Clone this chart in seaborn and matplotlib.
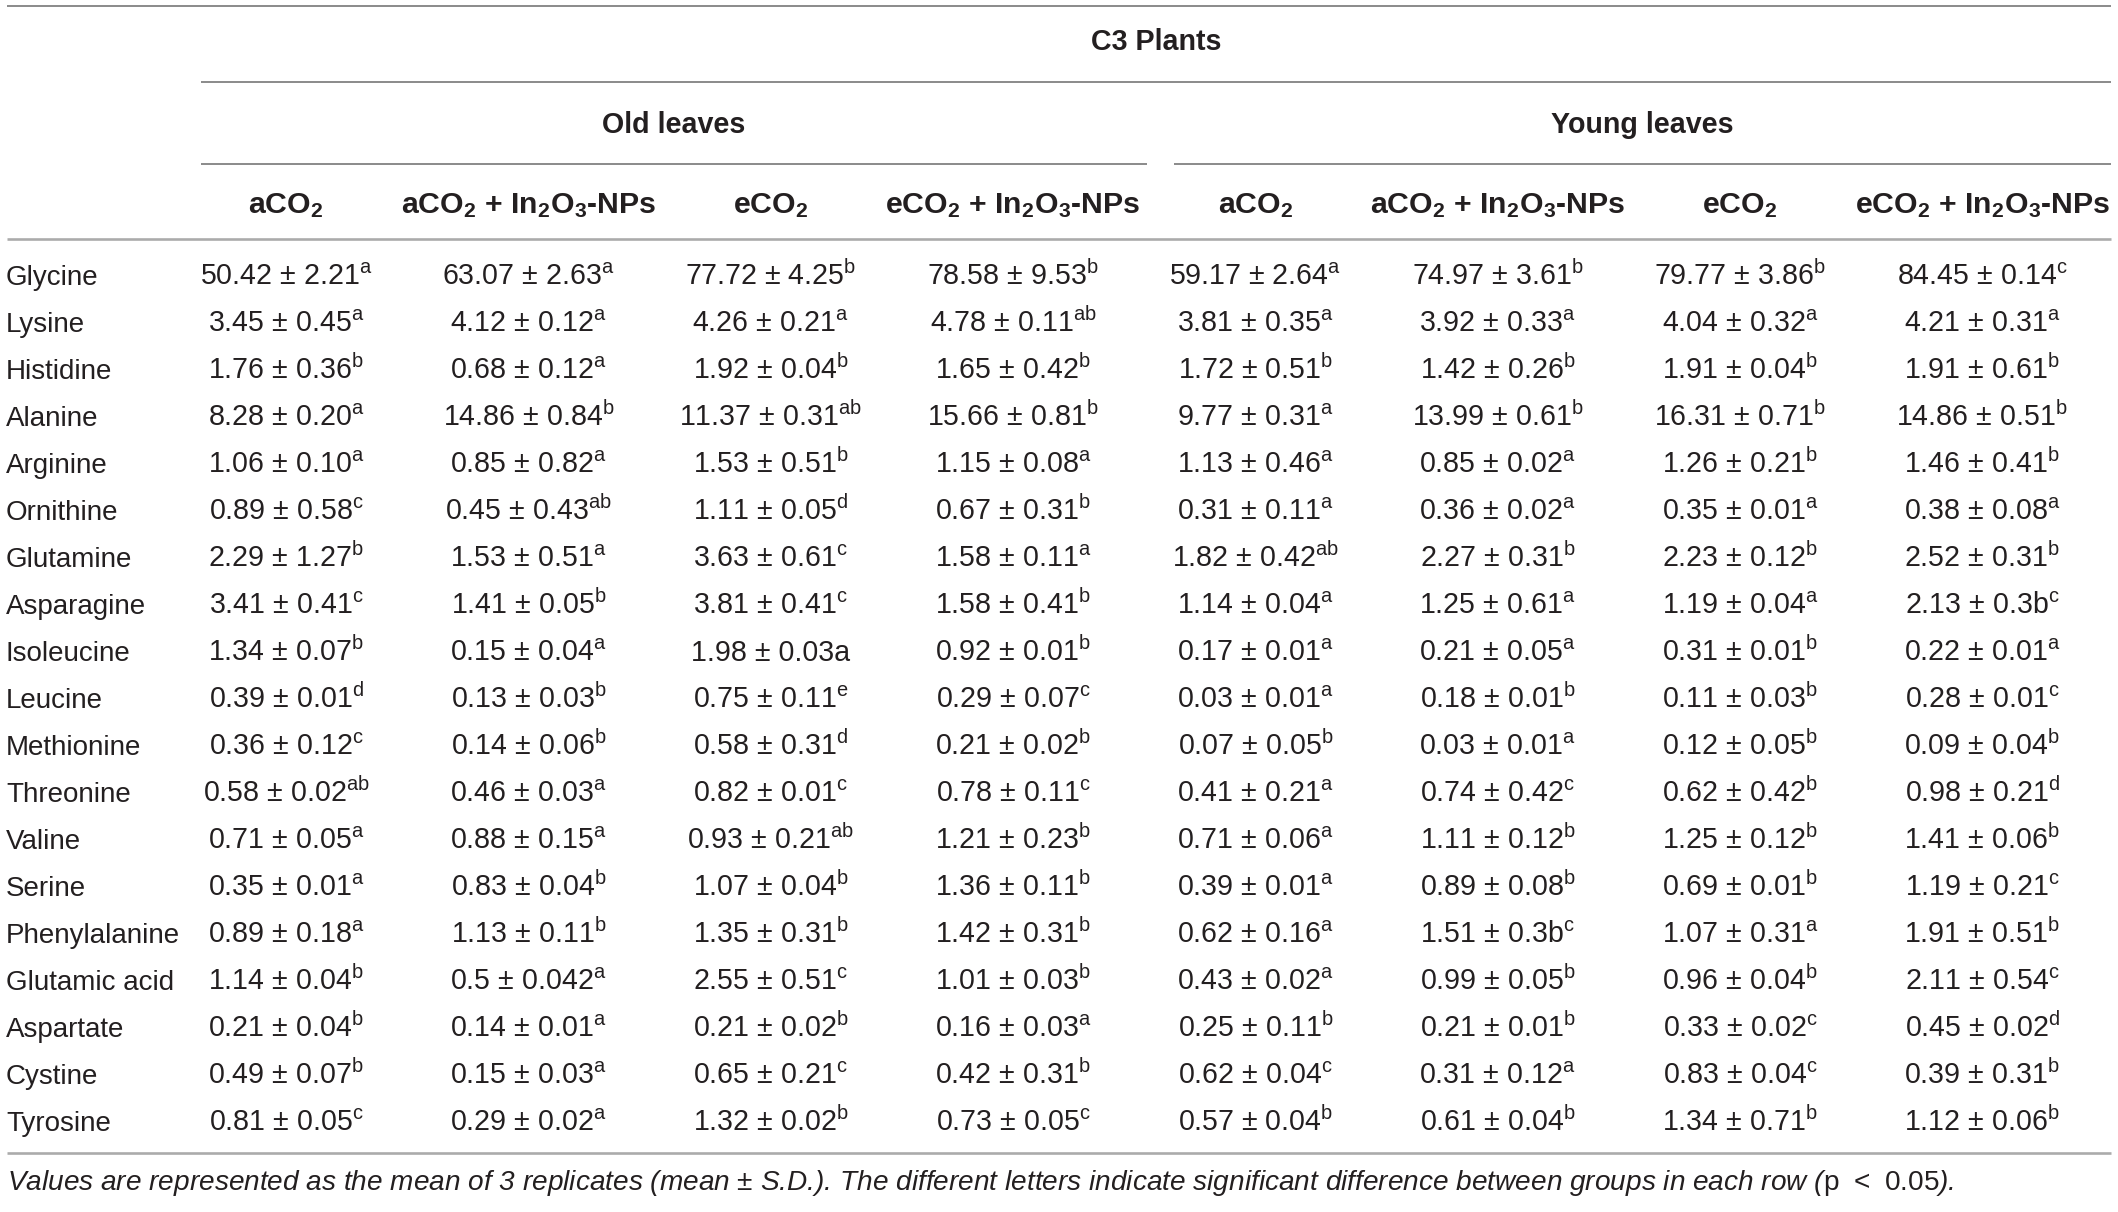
import numpy as np
import matplotlib
matplotlib.use("Agg")
import matplotlib.pyplot as plt
from matplotlib.colors import ListedColormap
import seaborn as sns

sns.set_theme(style="white")
plt.rcParams["font.family"] = ["Liberation Sans", "DejaVu Sans"]
plt.rcParams["mathtext.fontset"] = "custom"
plt.rcParams["mathtext.rm"] = "Liberation Sans"
plt.rcParams["mathtext.default"] = "regular"

# ---- table data ----
amino_acids = ["Glycine", "Lysine", "Histidine", "Alanine", "Arginine", "Ornithine",
               "Glutamine", "Asparagine", "Isoleucine", "Leucine", "Methionine",
               "Threonine", "Valine", "Serine", "Phenylalanine", "Glutamic acid",
               "Aspartate", "Cystine", "Tyrosine"]

treatments = ["aCO$_2$", "aCO$_2$ + In$_2$O$_3$-NPs", "eCO$_2$", "eCO$_2$ + In$_2$O$_3$-NPs"]
leaf_groups = ["Old leaves", "Young leaves"]

old_aco2 = ["50.42 ± 2.21", "3.45 ± 0.45", "1.76 ± 0.36", "8.28 ± 0.20", "1.06 ± 0.10",
            "0.89 ± 0.58", "2.29 ± 1.27", "3.41 ± 0.41", "1.34 ± 0.07", "0.39 ± 0.01",
            "0.36 ± 0.12", "0.58 ± 0.02", "0.71 ± 0.05", "0.35 ± 0.01", "0.89 ± 0.18",
            "1.14 ± 0.04", "0.21 ± 0.04", "0.49 ± 0.07", "0.81 ± 0.05"]
old_aco2_let = ["a", "a", "b", "a", "a", "c", "b", "c", "b", "d", "c", "ab", "a", "a", "a",
                "b", "b", "b", "c"]

old_aco2_np = ["63.07 ± 2.63", "4.12 ± 0.12", "0.68 ± 0.12", "14.86 ± 0.84", "0.85 ± 0.82",
               "0.45 ± 0.43", "1.53 ± 0.51", "1.41 ± 0.05", "0.15 ± 0.04", "0.13 ± 0.03",
               "0.14 ± 0.06", "0.46 ± 0.03", "0.88 ± 0.15", "0.83 ± 0.04", "1.13 ± 0.11",
               "0.5 ± 0.042", "0.14 ± 0.01", "0.15 ± 0.03", "0.29 ± 0.02"]
old_aco2_np_let = ["a", "a", "a", "b", "a", "ab", "a", "b", "a", "b", "b", "a", "a", "b", "b",
                   "a", "a", "a", "a"]

old_eco2 = ["77.72 ± 4.25", "4.26 ± 0.21", "1.92 ± 0.04", "11.37 ± 0.31", "1.53 ± 0.51",
            "1.11 ± 0.05", "3.63 ± 0.61", "3.81 ± 0.41", "1.98 ± 0.03a", "0.75 ± 0.11",
            "0.58 ± 0.31", "0.82 ± 0.01", "0.93 ± 0.21", "1.07 ± 0.04", "1.35 ± 0.31",
            "2.55 ± 0.51", "0.21 ± 0.02", "0.65 ± 0.21", "1.32 ± 0.02"]
old_eco2_let = ["b", "a", "b", "ab", "b", "d", "c", "c", "", "e", "d", "c", "ab", "b", "b",
                "c", "b", "c", "b"]

old_eco2_np = ["78.58 ± 9.53", "4.78 ± 0.11", "1.65 ± 0.42", "15.66 ± 0.81", "1.15 ± 0.08",
               "0.67 ± 0.31", "1.58 ± 0.11", "1.58 ± 0.41", "0.92 ± 0.01", "0.29 ± 0.07",
               "0.21 ± 0.02", "0.78 ± 0.11", "1.21 ± 0.23", "1.36 ± 0.11", "1.42 ± 0.31",
               "1.01 ± 0.03", "0.16 ± 0.03", "0.42 ± 0.31", "0.73 ± 0.05"]
old_eco2_np_let = ["b", "ab", "b", "b", "a", "b", "a", "b", "b", "c", "b", "c", "b", "b", "b",
                   "b", "a", "b", "c"]

young_aco2 = ["59.17 ± 2.64", "3.81 ± 0.35", "1.72 ± 0.51", "9.77 ± 0.31", "1.13 ± 0.46",
              "0.31 ± 0.11", "1.82 ± 0.42", "1.14 ± 0.04", "0.17 ± 0.01", "0.03 ± 0.01",
              "0.07 ± 0.05", "0.41 ± 0.21", "0.71 ± 0.06", "0.39 ± 0.01", "0.62 ± 0.16",
              "0.43 ± 0.02", "0.25 ± 0.11", "0.62 ± 0.04", "0.57 ± 0.04"]
young_aco2_let = ["a", "a", "b", "a", "a", "a", "ab", "a", "a", "a", "b", "a", "a", "a", "a",
                  "a", "b", "c", "b"]

young_aco2_np = ["74.97 ± 3.61", "3.92 ± 0.33", "1.42 ± 0.26", "13.99 ± 0.61", "0.85 ± 0.02",
                 "0.36 ± 0.02", "2.27 ± 0.31", "1.25 ± 0.61", "0.21 ± 0.05", "0.18 ± 0.01",
                 "0.03 ± 0.01", "0.74 ± 0.42", "1.11 ± 0.12", "0.89 ± 0.08", "1.51 ± 0.3b",
                 "0.99 ± 0.05", "0.21 ± 0.01", "0.31 ± 0.12", "0.61 ± 0.04"]
young_aco2_np_let = ["b", "a", "b", "b", "a", "a", "b", "a", "a", "b", "a", "c", "b", "b", "c",
                     "b", "b", "a", "b"]

young_eco2 = ["79.77 ± 3.86", "4.04 ± 0.32", "1.91 ± 0.04", "16.31 ± 0.71", "1.26 ± 0.21",
              "0.35 ± 0.01", "2.23 ± 0.12", "1.19 ± 0.04", "0.31 ± 0.01", "0.11 ± 0.03",
              "0.12 ± 0.05", "0.62 ± 0.42", "1.25 ± 0.12", "0.69 ± 0.01", "1.07 ± 0.31",
              "0.96 ± 0.04", "0.33 ± 0.02", "0.83 ± 0.04", "1.34 ± 0.71"]
young_eco2_let = ["b", "a", "b", "b", "b", "a", "b", "a", "b", "b", "b", "b", "b", "b", "a",
                  "b", "c", "c", "b"]

young_eco2_np = ["84.45 ± 0.14", "4.21 ± 0.31", "1.91 ± 0.61", "14.86 ± 0.51", "1.46 ± 0.41",
                 "0.38 ± 0.08", "2.52 ± 0.31", "2.13 ± 0.3b", "0.22 ± 0.01", "0.28 ± 0.01",
                 "0.09 ± 0.04", "0.98 ± 0.21", "1.41 ± 0.06", "1.19 ± 0.21", "1.91 ± 0.51",
                 "2.11 ± 0.54", "0.45 ± 0.02", "0.39 ± 0.31", "1.12 ± 0.06"]
young_eco2_np_let = ["c", "a", "b", "b", "b", "a", "b", "c", "a", "c", "b", "d", "b", "c", "b",
                     "c", "d", "b", "b"]

columns = [(old_aco2, old_aco2_let), (old_aco2_np, old_aco2_np_let),
           (old_eco2, old_eco2_let), (old_eco2_np, old_eco2_np_let),
           (young_aco2, young_aco2_let), (young_aco2_np, young_aco2_np_let),
           (young_eco2, young_eco2_let), (young_eco2_np, young_eco2_np_let)]

footnote = ("Values are represented as the mean of 3 replicates (mean ± S.D.). The different "
            "letters indicate significant difference between groups in each row "
            "($\\mathrm{p\\ <\\ 0.05}$).")

# ---- layout (pixels) ----
W, H = 2118, 1212
FS = 20.6
HFS = 21.8
TXT = "#231f20"
col_x0, col_w = 165, 242.3
row_y0, row_h = 251.5, 47.0
n_rows, n_cols = len(amino_acids), len(columns)

fig = plt.figure(figsize=(W / 100, H / 100), dpi=100)
fig.patch.set_facecolor("white")

# grid of cells laid out by a blank heatmap
hm_ax = fig.add_axes([col_x0 / W, 1 - (row_y0 + n_rows * row_h) / H,
                      n_cols * col_w / W, n_rows * row_h / H])
sns.heatmap(np.zeros((n_rows, n_cols)), cmap=ListedColormap(["white"]), cbar=False,
            ax=hm_ax, xticklabels=False, yticklabels=False, linewidths=0)
hm_ax.set_facecolor("none")
for s in hm_ax.spines.values():
    s.set_visible(False)

for j, (vals, lets) in enumerate(columns):
    for i, (v, l) in enumerate(zip(vals, lets)):
        label = v + (f"$^{{{l}}}$" if l else "")
        hm_ax.text(j + 0.5, i + 0.5 + 0.21, label, ha="center", va="baseline",
                   fontsize=FS, color=TXT)

# overlay for headers, rules and row labels
ax = fig.add_axes([0, 0, 1, 1])
ax.set_xlim(0, W)
ax.set_ylim(H, 0)
ax.axis("off")
ax.patch.set_visible(False)

line_kw = dict(color="#8a8a8a", lw=1.4, solid_capstyle="butt")
ax.plot([7, 2111], [6, 6], **line_kw)
ax.plot([201, 2111], [82, 82], **line_kw)
ax.plot([201, 1147], [164, 164], **line_kw)
ax.plot([1174, 2111], [164, 164], **line_kw)
ax.plot([7, 2111], [239, 239], color="#ababab", lw=1.9, solid_capstyle="butt")
ax.plot([7, 2111], [1153, 1153], color="#ababab", lw=1.9, solid_capstyle="butt")

ax.text(1156, 50, "C3 Plants", ha="center", va="baseline", fontsize=FS,
        fontweight="bold", color=TXT)
for k, g in enumerate(leaf_groups):
    cx = [674, 1642][k]
    ax.text(cx, 133, g, ha="center", va="baseline", fontsize=FS, fontweight="bold", color=TXT)

for j in range(n_cols):
    cx = col_x0 + (j + 0.5) * col_w
    ax.text(cx, 213, treatments[j % 4], ha="center", va="baseline", fontsize=HFS,
            fontweight="bold", color=TXT)

for i, name in enumerate(amino_acids):
    ax.text(6, row_y0 + (i + 0.5) * row_h + 9.9, name, ha="left", va="baseline",
            fontsize=20.0, color=TXT)

ax.text(7, 1190, footnote, ha="left", va="baseline", fontsize=20.2,
        style="italic", color=TXT)

fig.savefig("out.png", dpi=100, facecolor="white")
